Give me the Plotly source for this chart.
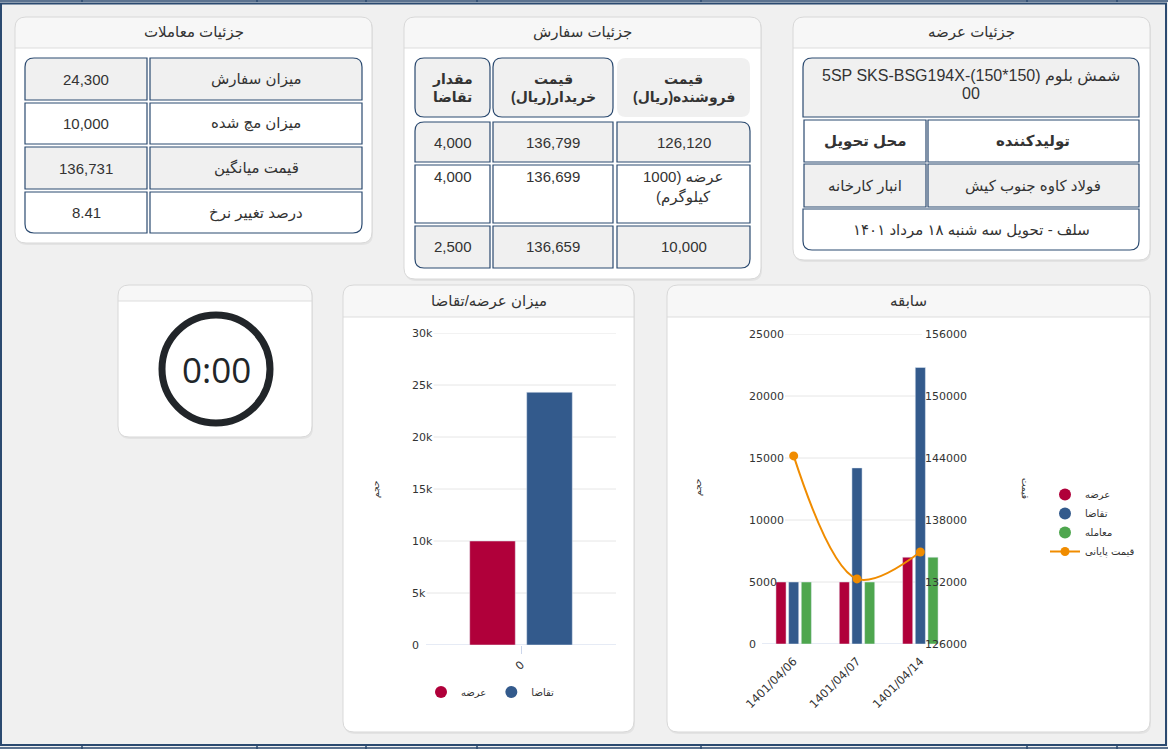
import plotly.graph_objects as go

W, H = 1168, 749

# ---------------- data ----------------
trade_labels = ["میزان سفارش", "میزان مچ شده", "قیمت میانگین", "درصد تغییر نرخ"]
trade_values = [24300, 10000, 136731, 8.41]

order_header_a = ["مقدار", "تقاضا"]
order_header_b = ["قیمت", "خریدار(ریال)"]
order_header_c = ["قیمت", "فروشنده(ریال)"]
order_demand_qty = [4000, 4000, 2500]
order_buyer_price = [136799, 136699, 136659]
order_seller_price = ["126,120", "عرضه (1000\nکیلوگرم)", "10,000"]

offer_product_lines = ["5SP SKS-BSG194X-(150*150) شمش بلوم", "00"]
offer_col_headers = ["محل تحویل", "تولیدکننده"]
offer_col_values = ["انبار کارخانه", "فولاد کاوه جنوب کیش"]
offer_note = "سلف - تحویل سه شنبه ۱۸ مرداد ۱۴۰۱"

timer_text = "0:00"

title_trades = "جزئیات معاملات"
title_orders = "جزئیات سفارش"
title_offer = "جزئیات عرضه"
title_sd = "میزان عرضه/تقاضا"
title_hist = "سابقه"

sd_categories = ["0"]
sd_supply = [10000]
sd_demand = [24300]

hist_dates = ["1401/04/06", "1401/04/07", "1401/04/14"]
hist_offer = [5000, 5000, 7000]
hist_demand = [5000, 14200, 22300]
hist_trade = [5000, 5000, 7000]
hist_close_price = [144200, 132300, 134900]

name_offer = "عرضه"
name_demand = "تقاضا"
name_trade = "معامله"
name_close = "قیمت پایانی"
axis_volume = "حجم"
axis_price = "قیمت"

sd_range = [0, 30000]
sd_dtick = 5000
vol_range = [0, 25000]
vol_dtick = 5000
price_range = [126000, 156000]
price_dtick = 6000

# ---------------- styles ----------------
BG = "#f0f0f0"
NAVY = "#2b4a70"
CELL_GREY = "#f0f0f0"
HEAD_BG = "#f7f7f7"
CARD_LINE = "#d8d8d8"
TXT = "#333333"
RED = "#b0003a"
BLUE = "#335a8c"
GREEN = "#4ea64e"
ORANGE = "#f08c00"
GRID = "#e6e6e6"
AXIS = "#ccd6eb"
FONT = "Liberation Sans, DejaVu Sans, sans-serif"
FONT_AX = "DejaVu Sans, sans-serif"

# plot-area geometry (pixels)
SD_L, SD_R, SD_T, SD_B, SD_LAB = 426, 616, 333, 645, 408
HI_L, HI_R, HI_T, HI_B, HI_LAB, HI_RLAB = 762, 952, 334, 644, 745, 924


def X(p):
    return p / W


def Y(p):
    return 1 - p / H


def P(x, y):
    return f"{X(x):.5f},{Y(y):.5f}"


def rtl(s):
    return "\u202b" + s + "\u202c"


shapes = []
annotations = []


def rpath(x0, y0, x1, y1, r, tl=True, tr=True, br=True, bl=True):
    a = r if tl else 0
    b = r if tr else 0
    c = r if br else 0
    d = r if bl else 0
    s = f"M{P(x0 + a, y0)} L{P(x1 - b, y0)} "
    if b:
        s += f"Q{P(x1, y0)} {P(x1, y0 + b)} "
    s += f"L{P(x1, y1 - c)} "
    if c:
        s += f"Q{P(x1, y1)} {P(x1 - c, y1)} "
    s += f"L{P(x0 + d, y1)} "
    if d:
        s += f"Q{P(x0, y1)} {P(x0, y1 - d)} "
    s += f"L{P(x0, y0 + a)} "
    if a:
        s += f"Q{P(x0, y0)} {P(x0 + a, y0)} "
    return s + "Z"


def add_path(path, fill, line_color=None, lw=1.0):
    shapes.append(dict(type="path", path=path, xref="paper", yref="paper",
                       fillcolor=fill,
                       line=dict(color=line_color if line_color else "rgba(0,0,0,0)",
                                 width=lw if line_color else 0),
                       layer="below"))


def add_line(x0, y0, x1, y1, color, width=1.0):
    shapes.append(dict(type="line", xref="paper", yref="paper",
                       x0=X(x0), y0=Y(y0), x1=X(x1), y1=Y(y1),
                       line=dict(color=color, width=width), layer="below"))


def add_text(x, y, s, size=15, color=TXT, bold=False, family=FONT, angle=0,
             xanchor="center", yanchor="middle"):
    if bold:
        s = f"<b>{s}</b>"
    annotations.append(dict(x=X(x), y=Y(y), xref="paper", yref="paper", text=s,
                            showarrow=False, font=dict(size=size, color=color, family=family),
                            xanchor=xanchor, yanchor=yanchor, textangle=angle))


def card(x0, y0, x1, y1, hh, title=None):
    add_path(rpath(x0 + 1, y0 + 1, x1 + 1, y1 + 2, 11), "rgba(0,0,0,0.05)")
    add_path(rpath(x0, y0, x1, y1, 11), "white")
    add_path(rpath(x0, y0, x1, y0 + hh, 11, bl=False, br=False), HEAD_BG)
    add_line(x0, y0 + hh, x1, y0 + hh, "#dddddd", 1)
    add_path(rpath(x0, y0, x1, y1, 11), "rgba(0,0,0,0)", CARD_LINE, 1)
    if title:
        add_text((x0 + x1) / 2, y0 + hh / 2, rtl(title), size=15, color=TXT)


def cell(x0, y0, x1, y1, fill, tl=False, tr=False, br=False, bl=False, border=True):
    add_path(rpath(x0, y0, x1, y1, 9, tl, tr, br, bl), fill, NAVY if border else None, 1.2)


def label_width(s):
    # approximate width of an 11px DejaVu Sans tick label
    return sum(6.6 if ch == "k" else 7.0 for ch in s)


def fmt_k(v):
    return "0" if v == 0 else f"{int(v / 1000)}k"


# ---------------- page frame ----------------
add_line(0, 1, W, 1, NAVY, 1.5)
add_line(0, 748, W, 748, NAVY, 1.5)
for xd in [82, 257, 366, 477, 701, 1027, 1117]:
    add_line(xd, 0, xd, 2, NAVY, 1.5)
    add_line(xd, 746, xd, 749, NAVY, 1.5)
shapes.append(dict(type="rect", xref="paper", yref="paper", x0=X(1), x1=X(1166),
                   y0=Y(745), y1=Y(3.5), line=dict(color=NAVY, width=2),
                   fillcolor="rgba(0,0,0,0)", layer="below"))

# ---------------- card 1 : trades ----------------
card(15, 17, 372, 243, 31, title_trades)
t1_rows = [(58, 100), (103, 144), (147, 189), (192, 233)]
for i, (ya, yb) in enumerate(t1_rows):
    fill = CELL_GREY if i % 2 == 0 else "white"
    first, last = i == 0, i == len(t1_rows) - 1
    cell(25, ya, 147, yb, fill, tl=first, bl=last)
    cell(150, ya, 362, yb, fill, tr=first, br=last)
    add_text(86, (ya + yb) / 2, f"{trade_values[i]:,}")
    add_text(256, (ya + yb) / 2, rtl(trade_labels[i]))

# ---------------- card 2 : orders ----------------
card(404, 17, 761, 279, 31, title_orders)
colA, colB, colC = (415, 490), (493, 613), (617, 750)
hy = (58, 117)
cell(colA[0], hy[0], colA[1], hy[1], CELL_GREY, True, True, True, True)
cell(colB[0], hy[0], colB[1], hy[1], CELL_GREY, True, True, True, True)
cell(colC[0], hy[0], colC[1], hy[1], CELL_GREY, True, True, True, True, border=False)
for col, hdr in ((colA, order_header_a), (colB, order_header_b), (colC, order_header_c)):
    add_text((col[0] + col[1]) / 2, 79, rtl(hdr[0]), size=14, bold=True)
    add_text((col[0] + col[1]) / 2, 97, rtl(hdr[1]), size=14, bold=True)
o_rows = [(122, 162), (165, 223), (226, 268)]
for i, (ya, yb) in enumerate(o_rows):
    fill = CELL_GREY if i % 2 == 0 else "white"
    first, last = i == 0, i == len(o_rows) - 1
    cell(colA[0], ya, colA[1], yb, fill, tl=first, bl=last)
    cell(colB[0], ya, colB[1], yb, fill)
    cell(colC[0], ya, colC[1], yb, fill, tr=first, br=last)
    lines = order_seller_price[i].split("\n")
    ty = (ya + yb) / 2 if len(lines) == 1 else ya + 12
    add_text((colA[0] + colA[1]) / 2, ty, f"{order_demand_qty[i]:,}")
    add_text((colB[0] + colB[1]) / 2, ty, f"{order_buyer_price[i]:,}")
    for k, ln in enumerate(lines):
        add_text((colC[0] + colC[1]) / 2, ty + 20 * k, rtl(ln))

# ---------------- card 3 : offer ----------------
card(793, 17, 1150, 260, 31, title_offer)
cell(803, 58, 1139, 117, CELL_GREY, tl=True, tr=True)
for k, ln in enumerate(offer_product_lines):
    add_text(971, 76 + 18 * k, ln, size=16)
cell(804, 120, 926, 162, "white")
cell(928, 120, 1139, 162, "white")
add_text(865, 141, rtl(offer_col_headers[0]), bold=True)
add_text(1033, 141, rtl(offer_col_headers[1]), bold=True)
cell(804, 164, 926, 207, CELL_GREY)
cell(928, 164, 1139, 207, CELL_GREY)
add_text(865, 186, rtl(offer_col_values[0]))
add_text(1033, 186, rtl(offer_col_values[1]))
cell(803, 209, 1139, 250, "white", bl=True, br=True)
add_text(971, 230, rtl(offer_note))

# ---------------- card 4 : timer ----------------
card(118, 285, 312, 437, 16)
shapes.append(dict(type="circle", xref="paper", yref="paper",
                   x0=X(216 - 54), x1=X(216 + 54), y0=Y(369 + 54), y1=Y(369 - 54),
                   line=dict(color="#212529", width=7), fillcolor="white", layer="below"))
add_text(216, 369, timer_text, size=35, color="#212529", family="Open Sans, sans-serif")

# ---------------- chart cards ----------------
card(343, 285, 634, 732, 32, title_sd)
card(667, 285, 1150, 732, 32, title_hist)

add_text(377, 490, rtl(axis_volume), size=9, angle=-90, family=FONT_AX)
add_text(698, 488, rtl(axis_volume), size=9, angle=-90, family=FONT_AX)
add_text(1025, 488, rtl(axis_price), size=9, angle=90, family=FONT_AX)

# gridlines (start right of the tick labels, as in the original)
v = sd_range[0]
while v <= sd_range[1]:
    start = max(SD_L, SD_LAB + 3 + label_width(fmt_k(v)) + 2)
    shapes.append(dict(type="line", xref="paper", yref="y",
                       x0=X(start), x1=X(SD_R), y0=v, y1=v,
                       line=dict(color=AXIS if v == sd_range[0] else GRID, width=1), layer="below"))
    v += sd_dtick
v = vol_range[0]
while v <= vol_range[1]:
    start = max(HI_L, HI_LAB + 3 + label_width(str(v)) + 2)
    shapes.append(dict(type="line", xref="paper", yref="y2",
                       x0=X(start), x1=X(HI_RLAB - 2), y0=v, y1=v,
                       line=dict(color=AXIS if v == vol_range[0] else GRID, width=1), layer="below"))
    v += vol_dtick

fig = go.Figure()

# supply / demand chart
fig.add_bar(x=sd_categories, y=sd_supply, name=name_offer, marker_color=RED,
            xaxis="x", yaxis="y", showlegend=False)
fig.add_bar(x=sd_categories, y=sd_demand, name=name_demand, marker_color=BLUE,
            xaxis="x", yaxis="y", showlegend=False)
fig.add_scatter(x=[None], y=[None], mode="markers", name=name_offer,
                marker=dict(color=RED, size=12), xaxis="x", yaxis="y", legend="legend2")
fig.add_scatter(x=[None], y=[None], mode="markers", name=name_demand,
                marker=dict(color=BLUE, size=12), xaxis="x", yaxis="y", legend="legend2")

# history chart
fig.add_bar(x=hist_dates, y=hist_offer, name=name_offer, marker_color=RED,
            xaxis="x2", yaxis="y2", showlegend=False)
fig.add_bar(x=hist_dates, y=hist_demand, name=name_demand, marker_color=BLUE,
            xaxis="x2", yaxis="y2", showlegend=False)
fig.add_bar(x=hist_dates, y=hist_trade, name=name_trade, marker_color=GREEN,
            xaxis="x2", yaxis="y2", showlegend=False)
for nm, colr in ((name_offer, RED), (name_demand, BLUE), (name_trade, GREEN)):
    fig.add_scatter(x=[None], y=[None], mode="markers", name=nm,
                    marker=dict(color=colr, size=12), xaxis="x2", yaxis="y2", legend="legend")
fig.add_scatter(x=hist_dates, y=hist_close_price, mode="lines+markers", name=name_close,
                line=dict(color=ORANGE, width=2, shape="spline"),
                marker=dict(color=ORANGE, size=9), xaxis="x2", yaxis="y3", legend="legend")

tickfont = dict(family=FONT_AX, size=11, color=TXT)
fig.update_layout(
    width=W, height=H, autosize=False, margin=dict(l=0, r=0, t=0, b=0, autoexpand=False),
    paper_bgcolor=BG, plot_bgcolor="rgba(0,0,0,0)",
    barmode="group", bargap=0.4, bargroupgap=0.2,
    font=dict(family=FONT_AX, size=11, color=TXT),
    shapes=shapes, annotations=annotations,
    xaxis=dict(domain=[X(SD_L), X(SD_R)], anchor="y", type="category", showline=False,
               ticks="outside", ticklen=8, tickcolor=AXIS, range=[-0.5, 0.5],
               tickangle=-45, showgrid=False, tickfont=tickfont, fixedrange=True),
    yaxis=dict(domain=[Y(SD_B), Y(SD_T)], anchor="free", position=X(SD_LAB), range=sd_range,
               dtick=sd_dtick, tickformat="~s", ticklabelposition="inside", ticklabeloverflow="allow",
               showgrid=False, zeroline=False, showline=False, ticks="",
               tickfont=tickfont, fixedrange=True),
    xaxis2=dict(domain=[X(HI_L), X(HI_R)], anchor="y2", type="category", showline=False,
                range=[-0.5, len(hist_dates) - 0.5],
                ticks="outside", ticklen=5, tickcolor="rgba(0,0,0,0)", tickangle=-45,
                showgrid=False, tickfont=dict(family=FONT_AX, size=11.5, color=TXT),
                fixedrange=True),
    yaxis2=dict(domain=[Y(HI_B), Y(HI_T)], anchor="free", position=X(HI_LAB), range=vol_range,
                dtick=vol_dtick, tickformat="d", ticklabelposition="inside", ticklabeloverflow="allow",
                showgrid=False, zeroline=False, showline=False, ticks="", tickfont=tickfont,
                fixedrange=True),
    yaxis3=dict(overlaying="y2", side="right", anchor="free", position=X(HI_RLAB),
                range=price_range, dtick=price_dtick, tickformat="d", showgrid=False,
                zeroline=False, showline=False, ticks="", tickfont=tickfont, fixedrange=True),
    legend=dict(x=X(1045), y=Y(480), xanchor="left", yanchor="top", bgcolor="rgba(0,0,0,0)",
                font=dict(family=FONT_AX, size=10, color=TXT), tracegroupgap=0),
    legend2=dict(orientation="h", x=X(490), y=Y(692), xanchor="center", yanchor="middle",
                 bgcolor="rgba(0,0,0,0)", font=dict(family=FONT_AX, size=10, color=TXT)),
)

fig.write_html("out.html", config={"displayModeBar": False, "responsive": False},
               post_script="document.body.style.margin='0';document.body.style.overflow='hidden';")
